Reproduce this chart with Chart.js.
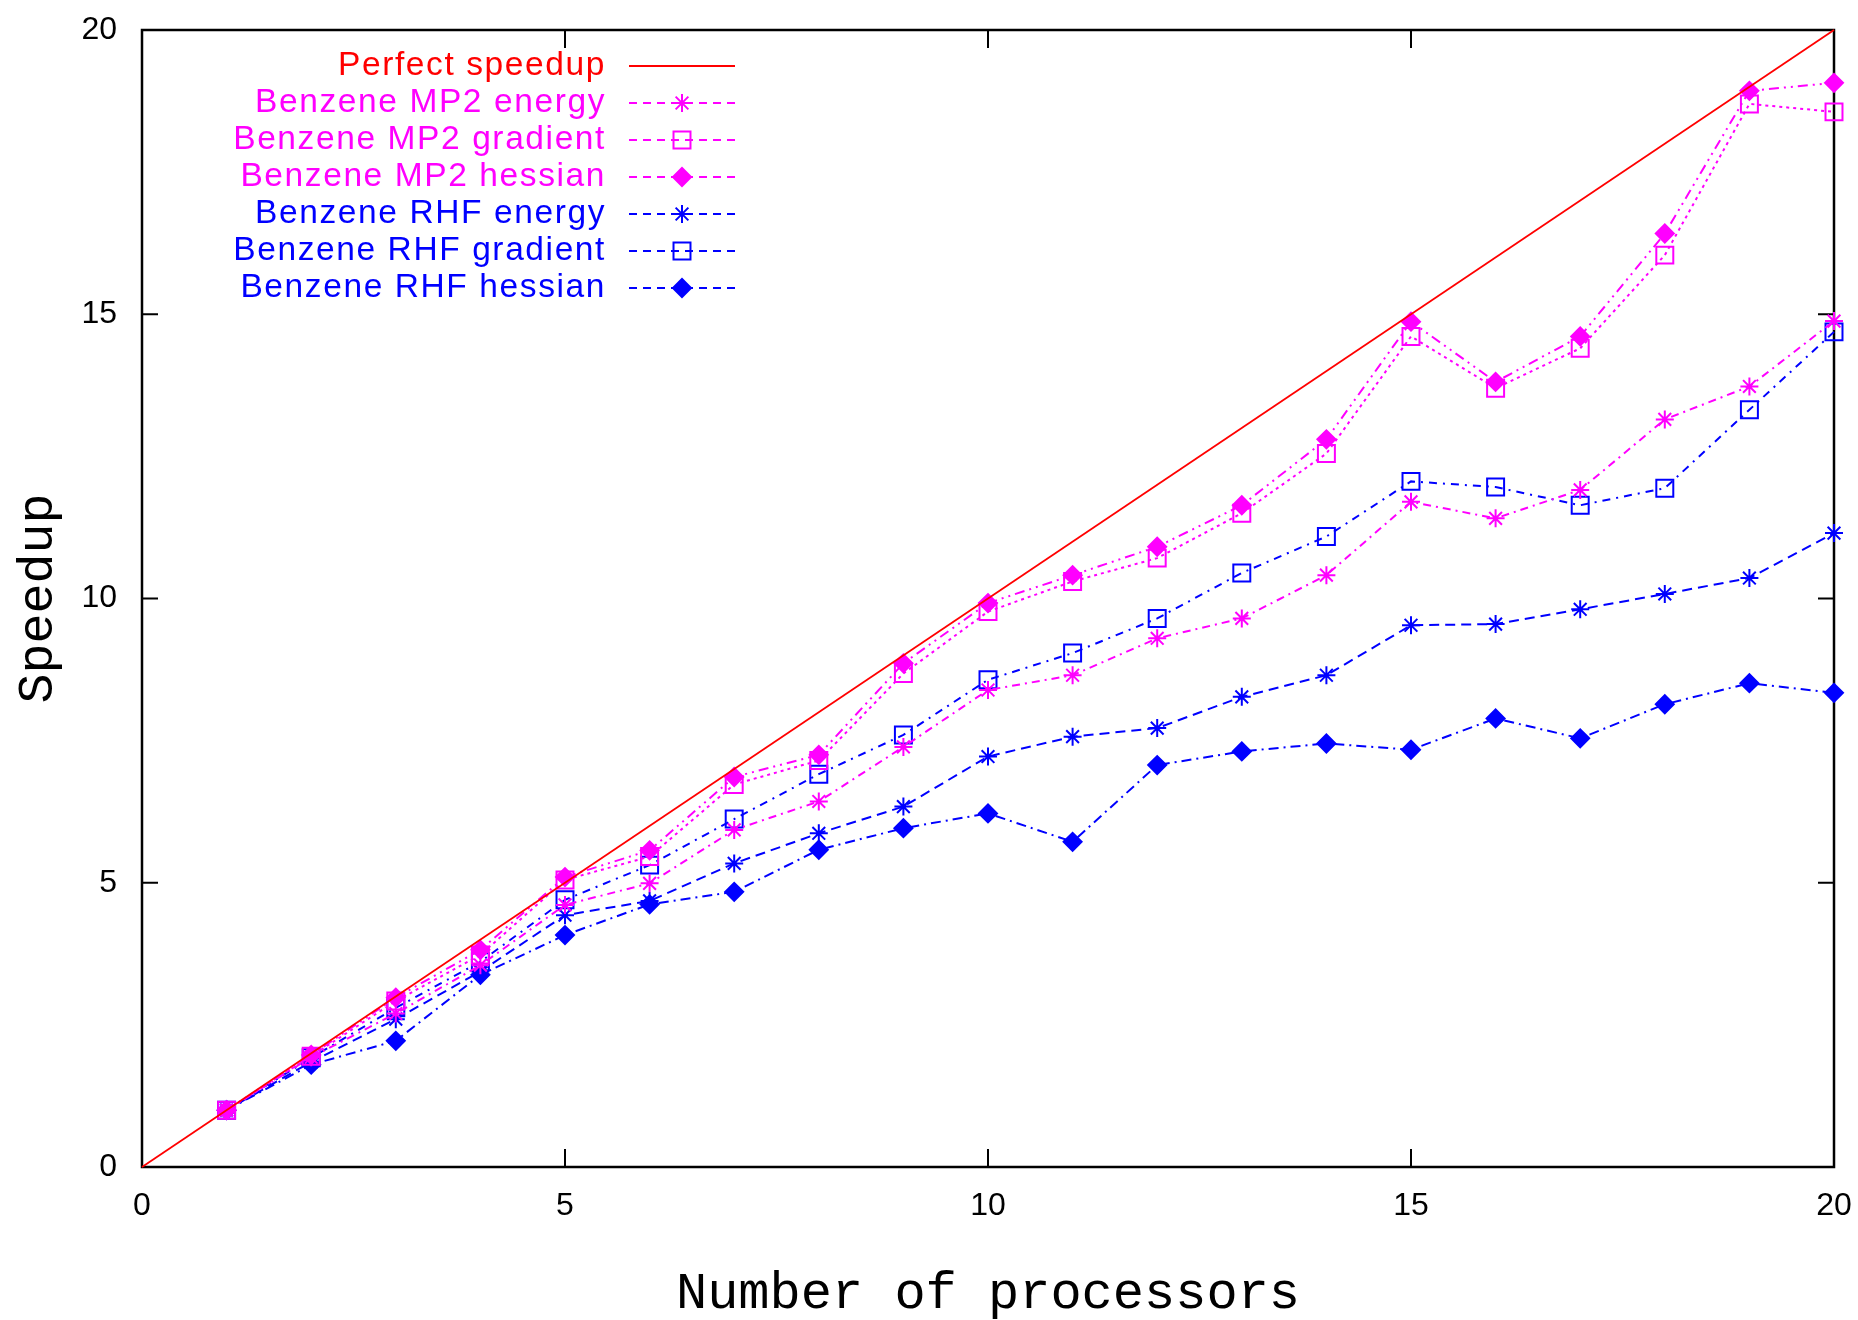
<!DOCTYPE html>
<html>
<head>
<meta charset="utf-8">
<script src="https://cdn.jsdelivr.net/npm/chart.js@4.4.1/dist/chart.umd.min.js"></script>
<style>
html,body{margin:0;padding:0;background:#ffffff;}
#wrap{width:1858px;height:1320px;position:relative;}
canvas{display:block;}
</style>
</head>
<body>
<div id="wrap"><canvas id="c" width="1858" height="1320"></canvas></div>
<script>
// ---- data ----
const processors = [1,2,3,4,5,6,7,8,9,10,11,12,13,14,15,16,17,18,19,20];
const perfectX = [0, 20];
const perfectY = [0, 20];
const mp2Energy   = [1.0,1.93,2.70,3.55,4.61,4.99,5.93,6.43,7.39,8.39,8.65,9.30,9.65,10.41,11.70,11.41,11.91,13.15,13.73,14.88];
const mp2Gradient = [1.0,1.95,2.92,3.73,5.05,5.46,6.73,7.15,8.68,9.77,10.30,10.71,11.50,12.55,14.61,13.70,14.40,16.04,18.70,18.56];
const mp2Hessian  = [1.0,1.97,2.98,3.82,5.10,5.57,6.86,7.25,8.86,9.92,10.41,10.91,11.64,12.80,14.87,13.81,14.61,16.42,18.93,19.07];
const rhfEnergy   = [1.0,1.85,2.60,3.44,4.43,4.68,5.34,5.87,6.34,7.22,7.57,7.72,8.27,8.65,9.53,9.55,9.81,10.08,10.36,11.15];
const rhfGradient = [1.0,1.92,2.80,3.61,4.70,5.31,6.12,6.91,7.60,8.57,9.04,9.65,10.45,11.09,12.06,11.96,11.64,11.94,13.32,14.69];
const rhfHessian  = [1.0,1.80,2.22,3.38,4.08,4.62,4.84,5.58,5.96,6.22,5.72,7.07,7.31,7.45,7.34,7.89,7.54,8.14,8.51,8.34];
const xTicks = [0,5,10,15,20];
const yTicks = [0,5,10,15,20];
const labels = ['Perfect speedup','Benzene MP2 energy','Benzene MP2 gradient','Benzene MP2 hessian',
                'Benzene RHF energy','Benzene RHF gradient','Benzene RHF hessian'];
const xTitle = 'Number of processors';
const yTitle = 'Speedup';

const RED = '#ff0000', MAG = '#ff00ff', BLUE = '#0000ff';

function pts(xs, ys){ return xs.map((x,i)=>({x:x, y:ys[i]})); }

function series(label, ys, color, style, radius, filled, dash){
  return {
    label: label,
    data: pts(processors, ys),
    borderColor: color,
    backgroundColor: filled ? color : 'rgba(0,0,0,0)',
    borderWidth: 2,
    borderDash: dash,
    pointStyle: style,
    pointRadius: radius,
    pointBorderWidth: 2,
    pointBorderColor: color,
    pointBackgroundColor: filled ? color : 'rgba(0,0,0,0)',
    tension: 0,
    fill: false,
    clip: false
  };
}

const datasets = [
  {
    label: labels[0],
    data: pts(perfectX, perfectY),
    borderColor: RED, backgroundColor: RED, borderWidth: 1.8,
    pointRadius: 0, tension: 0, fill: false, clip: false
  },
  series(labels[1], mp2Energy,   MAG,  'star',    9,  false, [8,5,2,5]),
  series(labels[2], mp2Gradient, MAG,  'rect',    12, false, [3,4]),
  series(labels[3], mp2Hessian,  MAG,  'rectRot', 9,  true,  [10,5,2,5,2,5]),
  series(labels[4], rhfEnergy,   BLUE, 'star',    9,  false, [10,6]),
  series(labels[5], rhfGradient, BLUE, 'rect',    12, false, [8,6,2,6]),
  series(labels[6], rhfHessian,  BLUE, 'rectRot', 9,  true,  [10,5,2,5])
];

function drawMarker(ctx, style, r, x, y, color, filled){
  ctx.save();
  ctx.setLineDash([]);
  ctx.strokeStyle = color; ctx.fillStyle = color; ctx.lineWidth = 2;
  ctx.beginPath();
  if (style === 'star'){
    for (let k=0;k<4;k++){
      const a = k*Math.PI/4;
      ctx.moveTo(x - r*Math.cos(a), y - r*Math.sin(a));
      ctx.lineTo(x + r*Math.cos(a), y + r*Math.sin(a));
    }
    ctx.stroke();
  } else if (style === 'rect'){
    const s = r*Math.SQRT1_2;
    ctx.rect(x-s, y-s, 2*s, 2*s);
    if (filled) ctx.fill();
    ctx.stroke();
  } else if (style === 'rectRot'){
    const s = r;
    ctx.moveTo(x-s,y); ctx.lineTo(x,y+s); ctx.lineTo(x+s,y); ctx.lineTo(x,y-s); ctx.closePath();
    if (filled) ctx.fill();
    ctx.stroke();
  }
  ctx.restore();
}

const framePlugin = {
  id: 'frame',
  beforeDatasetsDraw(chart){
    const {ctx, chartArea:a, scales} = chart;
    const xs = scales.x, ys = scales.y;
    ctx.save();
    ctx.strokeStyle = '#000'; ctx.lineWidth = 2.5; ctx.setLineDash([]);
    ctx.strokeRect(a.left, a.top, a.right - a.left, a.bottom - a.top);
    ctx.lineWidth = 2;
    ctx.beginPath();
    xs.ticks.forEach(t => {
      const px = xs.getPixelForValue(t.value);
      ctx.moveTo(px, a.bottom); ctx.lineTo(px, a.bottom - 18);
      ctx.moveTo(px, a.top);    ctx.lineTo(px, a.top + 18);
    });
    ys.ticks.forEach(t => {
      const py = ys.getPixelForValue(t.value);
      ctx.moveTo(a.left, py);  ctx.lineTo(a.left + 16, py);
      ctx.moveTo(a.right, py); ctx.lineTo(a.right - 16, py);
    });
    ctx.stroke();
    ctx.restore();
  }
};

const legendPlugin = {
  id: 'gpLegend',
  afterDraw(chart){
    const ctx = chart.ctx;
    const textRight = 606, lineL = 629, lineR = 735, mid = 682, top = 66, step = 37;
    chart.data.datasets.forEach((ds, i) => {
      const yy = top + i*step;
      ctx.save();
      ctx.font = '33.5px "Liberation Sans", Arial, sans-serif';
      try { ctx.letterSpacing = '1.6px'; } catch(e) {}
      ctx.fillStyle = ds.borderColor;
      ctx.textAlign = 'right';
      ctx.textBaseline = 'middle';
      ctx.fillText(ds.label, textRight, yy);
      ctx.restore();
      ctx.save();
      ctx.strokeStyle = ds.borderColor;
      ctx.lineWidth = 2;
      ctx.setLineDash(ds.borderDash ? [8,6] : []);
      ctx.beginPath(); ctx.moveTo(lineL, yy); ctx.lineTo(lineR, yy); ctx.stroke();
      ctx.restore();
      if (ds.pointRadius > 0){
        drawMarker(ctx, ds.pointStyle, ds.pointRadius, mid, yy, ds.borderColor,
                   ds.pointBackgroundColor !== 'rgba(0,0,0,0)');
      }
    });
  }
};

const tickFont = {family: '"Liberation Sans", Arial, sans-serif', size: 32, lineHeight: 1.2};
const titleFont = {family: '"Liberation Mono", "DejaVu Sans Mono", monospace', size: 50, lineHeight: 1.2};

new Chart(document.getElementById('c'), {
  type: 'line',
  data: { datasets: datasets },
  options: {
    responsive: false,
    animation: false,
    devicePixelRatio: 1,
    layout: { padding: { top: 30, right: 24, left: 0, bottom: 0 } },
    plugins: { legend: { display: false }, tooltip: { enabled: false } },
    scales: {
      x: {
        type: 'linear', min: 0, max: 20,
        afterBuildTicks: s => { s.ticks = xTicks.map(v => ({value: v})); },
        afterFit: s => { s.height = 153; s.paddingLeft = 0; s.paddingRight = 0; s.paddingTop = 0; s.paddingBottom = 0; },
        grid: { display: false, drawTicks: false },
        border: { display: false },
        ticks: { color: '#000', font: tickFont, padding: 20, maxRotation: 0, autoSkip: false },
        title: { display: true, text: xTitle, color: '#000',
                 font: {family: titleFont.family, size: 52, lineHeight: 1.0}, padding: {top: 0, bottom: 0} }
      },
      y: {
        type: 'linear', min: 0, max: 20,
        afterBuildTicks: s => { s.ticks = yTicks.map(v => ({value: v})); },
        afterFit: s => { s.width = 142; s.paddingLeft = 0; s.paddingRight = 0; s.paddingTop = 0; s.paddingBottom = 0; },
        grid: { display: false, drawTicks: false },
        border: { display: false },
        ticks: { color: '#000', font: tickFont, padding: 25, autoSkip: false },
        title: { display: true, text: yTitle, color: '#000', font: titleFont, padding: {top: 9, bottom: 0} }
      }
    }
  },
  plugins: [framePlugin, legendPlugin]
});
</script>
</body>
</html>
